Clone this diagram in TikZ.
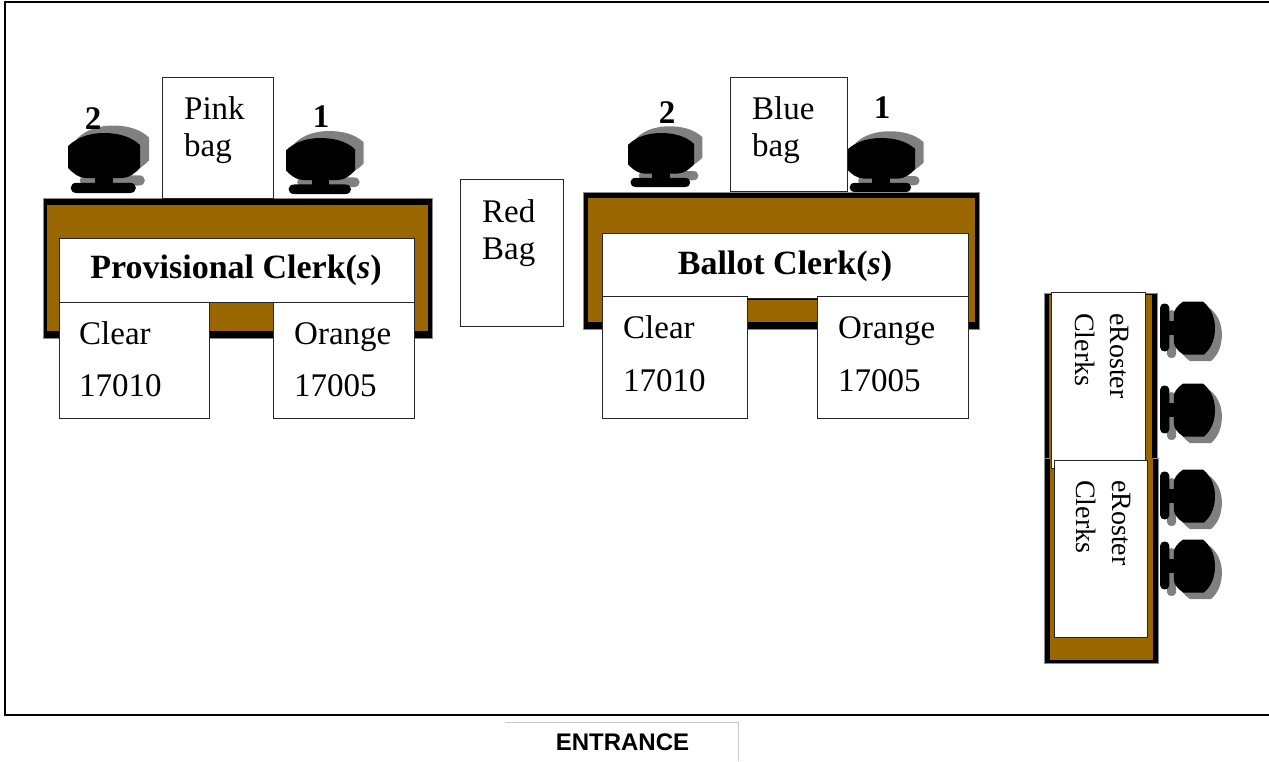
\documentclass[tikz,border=0pt]{standalone}
\usepackage{fontspec}
\setmainfont{Liberation Serif}
\newfontfamily\entfont{Liberation Sans}
\definecolor{deskbrown}{HTML}{996600}
\definecolor{shadowgray}{HTML}{808080}
\tikzset{
  deskblack/.style={fill=black,draw=black!45,line width=.6pt},
  deskinner/.style={fill=deskbrown,draw=none},
  paperbox/.style={fill=white,draw=black!85,line width=.9pt},
  txt/.style={anchor=base west,inner sep=0pt,yshift=-1pt,font=\fontsize{33}{33}\selectfont},
  seatnum/.style={anchor=base,inner sep=0pt,yshift=-1pt,font=\fontsize{33}{33}\selectfont\bfseries},
  title/.style={anchor=base,inner sep=0pt,yshift=-1.5pt,font=\fontsize{34}{34}\selectfont\bfseries},
  sidetxt/.style={anchor=base west,rotate=-90,inner sep=0pt,font=\fontsize{28}{28}\selectfont},
}
\newcommand{\chairshape}[1]{%
  \fill[#1] (-.5,.22) .. controls (-.36,.05) and (-.16,0) .. (0,0) .. controls (.16,0) and (.36,.04) .. (.5,.2)
    -- (.5,.58) .. controls (.42,.68) and (.36,.74) .. (.26,.75) -- (-.26,.75) .. controls (-.36,.74) and (-.42,.68) .. (-.5,.58) -- cycle;
  \fill[#1] (-.13,.7) rectangle (.13,.88);
  \fill[#1] (-.38,.83) -- (.36,.83) .. controls (.47,.83) and (.47,1) .. (.36,1) -- (-.38,1) .. controls (-.49,1) and (-.49,.83) .. (-.38,.83) -- cycle;
}
\newcommand{\chair}[5]{% x, y, rotation, width, height
  \begin{scope}[shift={(#1,#2)},rotate=#3,xscale=#4,yscale=#5]
    \begin{scope}[shift={(.125,-.125)}]\chairshape{shadowgray}\end{scope}
    \chairshape{black}
  \end{scope}}
\begin{document}
\begin{tikzpicture}[x=1pt,y=-1pt]
\useasboundingbox (0,0) rectangle (1269,761);
\fill[white] (0,0) rectangle (1269,761);
% room
\draw[line width=1.6pt,black] (1269,2) -- (5,2) -- (5,715) -- (1269,715);
% entrance
\draw[line width=1pt,black!22] (505,722) -- (738,722) -- (738,761);
\node[anchor=base,inner sep=0pt,font=\entfont\bfseries\fontsize{24}{24}\selectfont] (entrance) at (622.5,750) {ENTRANCE};
% chairs
\chair{104}{133}{0}{72}{60}
\chair{320.5}{138}{0}{69}{56}
\chair{661}{133}{0}{66}{54}
\chair{881}{138}{0}{68}{54}
\chair{1215}{328}{-90}{53}{55}
\chair{1215}{410}{-90}{53}{55}
\chair{1215}{496}{-90}{53}{55}
\chair{1215}{566}{-90}{53}{55}
% desks
\filldraw[deskblack] (43,198) rectangle (432,338);
\fill[deskinner] (47,205) rectangle (428,331);
\filldraw[deskblack] (583,192) rectangle (979,329);
\fill[deskinner] (588,198) rectangle (975,322);
\fill[black] (602,298) rectangle (968,300);
\filldraw[deskblack] (1044,293) rectangle (1157,460);
\fill[deskinner] (1049,295) rectangle (1152,460);
\filldraw[deskblack] (1044,458) rectangle (1158,663);
\fill[deskinner] (1050,458) rectangle (1153,660);
% boxes
\draw[paperbox] (162.5,77) rectangle (273,198);
\draw[paperbox] (59,238) rectangle (414,302);
\draw[paperbox] (59,302) rectangle (209,418);
\draw[paperbox] (273,302) rectangle (414,418);
\draw[paperbox] (460,179) rectangle (563,326);
\draw[paperbox] (730,77) rectangle (847,191);
\draw[paperbox] (602,233) rectangle (968,298);
\draw[paperbox] (602,296) rectangle (747,418);
\draw[paperbox] (817,296) rectangle (968,418);
\draw[paperbox] (1051,292) rectangle (1145,468);
\draw[paperbox] (1054,460) rectangle (1147,637);
% texts
\node[txt] (pink1) at (184,118) {Pink};
\node[txt] (pink2) at (184,155) {bag};
\node[title] (prov) at (236,277) {Provisional Clerk(\textit{s})};
\node[txt] (pc1) at (79,343) {Clear};
\node[txt] (pc2) at (79,395) {17010};
\node[txt] (po1) at (294,343) {Orange};
\node[txt] (po2) at (294,395) {17005};
\node[txt] (red1) at (482,221) {Red};
\node[txt] (red2) at (482,258) {Bag};
\node[txt] (blue1) at (752,118) {Blue};
\node[txt] (blue2) at (752,155) {bag};
\node[title] (ballot) at (785,273) {Ballot Clerk(\textit{s})};
\node[txt] (bc1) at (623,337) {Clear};
\node[txt] (bc2) at (623,390) {17010};
\node[txt] (bo1) at (838,337) {Orange};
\node[txt] (bo2) at (838,390) {17005};
\node[seatnum] (n2a) at (93,128) {2};
\node[seatnum] (n1a) at (321,126) {1};
\node[seatnum] (n2b) at (667,122) {2};
\node[seatnum] (n1b) at (882,117) {1};
\node[sidetxt] (er1) at (1110,313) {eRoster};
\node[sidetxt] (er2) at (1075,313) {Clerks};
\node[sidetxt] (er3) at (1112,480) {eRoster};
\node[sidetxt] (er4) at (1076,480) {Clerks};
\end{tikzpicture}
\end{document}
